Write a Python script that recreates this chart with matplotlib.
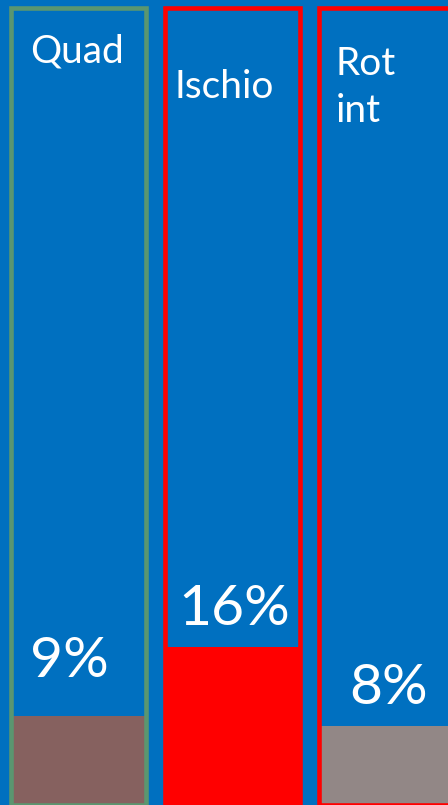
import matplotlib.pyplot as plt
import numpy as np

# muscle groups and their share (percent)
muscles = ["Quad", "Ischio", "Rot\nint"]
shares = [9, 16, 8]
share_labels = ["9%", "16%", "8%"]

fill_colors = ["#86615F", "#FF0000", "#928786"]
edge_colors = ["#5A9670", "#FF0000", "#FF0000"]
bg_blue = "#0070C0"

plt.rcParams["font.family"] = ["Lato", "DejaVu Sans"]

fig = plt.figure(figsize=(4.48, 8.05), dpi=100)
fig.patch.set_facecolor(bg_blue)
ax = fig.add_axes([0, 0, 1, 1])
ax.set_facecolor(bg_blue)

x = np.arange(len(muscles))
w = 0.877
top = 80.5  # height of the outlined column

# filled part
ax.bar(x, shares, width=w, color=fill_colors, linewidth=0, zorder=2)
# column outlines
ax.bar(x, [top] * len(x), width=w, facecolor="none",
       edgecolor=edge_colors, linewidth=3.3, zorder=3)

ax.set_xlim(-0.5097, 2.399)
ax.set_ylim(0, 81.3)
ax.axis("off")

# label placement: (offset from column left edge, baseline of last line)
label_pos = [(0.125, 75.0), (0.065, 71.4), (0.11, 69.0)]
for i, (name, (dx, yb)) in enumerate(zip(muscles, label_pos)):
    ax.text(i - w / 2 + dx, yb, name, color="white", fontsize=28,
            ha="left", va="baseline", linespacing=1.38, zorder=4)

pct_pos = [(-0.06, 12.9), (0.01, 18.2), (0.01, 10.2)]
for i, (lab, (dx, yb)) in enumerate(zip(share_labels, pct_pos)):
    ax.text(i + dx, yb, lab, color="white", fontsize=41,
            ha="center", va="baseline", zorder=4)

fig.savefig("out.png", dpi=100, facecolor=bg_blue)
